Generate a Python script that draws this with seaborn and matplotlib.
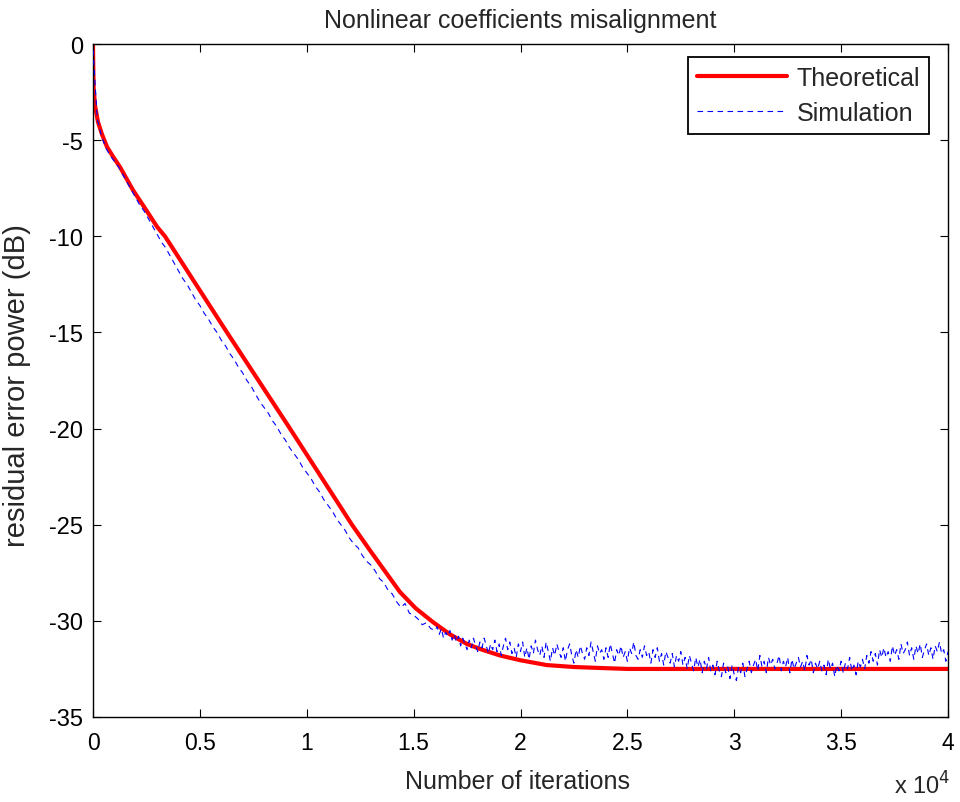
import numpy as np
import pandas as pd
import matplotlib
matplotlib.use("Agg")
import matplotlib.pyplot as plt
import seaborn as sns

# ---- data ----
theo_iter = [0, 10, 30, 94, 234, 421, 655, 935, 1263, 1871, 2526, 2993, 3367,
             6268, 9215, 12115, 13000, 14360, 15100, 15900, 16700, 17490,
             18200, 19040, 20000, 21230, 22500, 23710, 25000, 40000]
theo_db = [0, -1.0, -2.3, -3.2, -4.06, -4.7, -5.35, -5.85, -6.4, -7.6, -8.7, -9.5, -10.0,
           -15.0, -20.0, -25.0, -26.4, -28.5, -29.35, -30.06, -30.7, -31.2,
           -31.5, -31.8, -32.05, -32.3, -32.4, -32.45, -32.5, -32.5]

# simulation: iterations 0..15800 every 200
sim_db_early = [
    -0.3, -3.9, -4.8, -5.4, -5.8, -6.1, -6.4, -6.8, -7.2, -7.6,
    -8.0, -8.4, -8.7, -9.1, -9.5, -9.9, -10.3, -10.6, -11.0, -11.4,
    -11.8, -12.2, -12.5, -12.9, -13.3, -13.6, -14.0, -14.3, -14.7, -15.0,
    -15.4, -15.7, -16.1, -16.4, -16.8, -17.1, -17.5, -17.8, -18.2, -18.6,
    -18.9, -19.2, -19.6, -19.9, -20.3, -20.6, -21.0, -21.3, -21.6, -22.0,
    -22.3, -22.6, -23.0, -23.3, -23.7, -24.0, -24.3, -24.7, -25.0, -25.3,
    -25.7, -26.0, -26.2, -26.6, -26.9, -27.1, -27.4, -27.8, -28.0, -28.4,
    -28.6, -29.0, -29.3, -29.1, -29.6, -29.7, -29.9, -30.2, -30.1, -30.4,
]
# simulation: iterations 16000..40000 every 100
sim_db_tail = [
    -30.5, -30.3, -30.7, -30.4, -30.9, -30.6, -30.8, -30.5, -31.0, -30.7,
    -31.1, -30.8, -31.3, -30.9, -31.2, -31.5, -31.0, -31.4, -30.9, -31.3,
    -31.6, -31.1, -31.4, -30.9, -31.3, -31.7, -31.2, -31.5, -31.0, -31.6,
    -31.2, -31.8, -31.3, -30.9, -31.5, -31.1, -31.7, -31.4, -31.9, -31.2,
    -31.6, -31.1, -31.9, -31.4, -32.0, -31.3, -31.7, -31.0, -31.5, -31.8,
    -31.3, -31.9, -31.1, -31.6, -32.1, -31.4, -31.8, -31.2, -31.6, -31.9,
    -31.4, -32.1, -31.5, -31.2, -31.8, -32.2, -31.5, -31.9, -31.3, -31.7,
    -32.0, -31.4, -31.8, -31.1, -31.6, -32.1, -31.3, -31.7, -31.5, -32.0,
    -31.4, -31.9, -31.2, -31.7, -32.2, -31.5, -31.8, -31.3, -31.9, -31.6,
    -32.1, -31.4, -31.7, -31.1, -31.8, -32.0, -31.5, -31.9, -31.3, -31.8,
    -31.6, -32.2, -31.5, -31.9, -31.4, -32.1, -31.7, -32.3, -31.6, -31.9,
    -32.2, -31.7, -32.4, -31.8, -32.1, -31.6, -32.3, -31.9, -32.5, -31.8,
    -32.2, -32.6, -31.9, -32.4, -32.0, -32.7, -32.1, -32.5, -31.9, -32.6,
    -32.3, -32.8, -32.1, -32.6, -32.9, -32.2, -32.7, -32.4, -33.0, -32.3,
    -32.8, -33.1, -32.4, -32.7, -32.2, -32.9, -32.5, -32.1, -32.7, -32.3,
    -32.0, -32.6, -31.8, -32.4, -32.1, -32.7, -31.9, -32.3, -32.0, -32.5,
    -32.2, -31.8, -32.6, -32.1, -32.4, -31.9, -32.7, -32.0, -32.5, -32.2,
    -31.9, -32.4, -32.1, -32.6, -31.8, -32.3, -32.0, -32.7, -32.2, -32.5,
    -32.1, -32.6, -32.3, -32.8, -32.0, -32.5, -32.2, -32.9, -32.3, -32.6,
    -32.1, -32.7, -32.2, -32.5, -31.9, -32.6, -32.3, -32.8, -32.1, -32.4,
    -32.0, -32.5, -31.8, -32.2, -31.6, -32.1, -31.7, -32.3, -31.5, -31.9,
    -31.4, -31.9, -31.6, -32.1, -31.3, -31.8, -31.5, -32.0, -31.2, -31.7,
    -31.5, -31.1, -31.8, -31.4, -32.0, -31.3, -31.7, -31.2, -31.9, -31.5,
    -31.2, -31.8, -31.4, -32.0, -31.3, -31.6, -31.1, -31.7, -31.5, -32.1,
    -31.6,
]
sim_iter = list(range(0, 16000, 200)) + list(range(16000, 40001, 100))
sim_db = sim_db_early + sim_db_tail

x_ticks = [0, 5000, 10000, 15000, 20000, 25000, 30000, 35000, 40000]
x_tick_labels = ["0", "0.5", "1", "1.5", "2", "2.5", "3", "3.5", "4"]
y_ticks = [0, -5, -10, -15, -20, -25, -30, -35]
y_tick_labels = ["0", "-5", "-10", "-15", "-20", "-25", "-30", "-35"]

# ---- style ----
sns.set_style("ticks")
plt.rcParams["font.family"] = ["Liberation Sans", "DejaVu Sans"]
plt.rcParams["axes.unicode_minus"] = False

fig = plt.figure(figsize=(9.6, 8.03), dpi=100)
ax = fig.add_axes([93 / 960, 1 - 718 / 803, (948 - 93) / 960, (718 - 45) / 803])

theo_df = pd.DataFrame({"iter": theo_iter, "db": theo_db})
sim_df = pd.DataFrame({"iter": sim_iter, "db": sim_db})

sns.lineplot(data=theo_df, x="iter", y="db", ax=ax, color="#ff0000", lw=3.0,
             label="Theoretical", zorder=2)
sns.lineplot(data=sim_df, x="iter", y="db", ax=ax, color="#0000ff", lw=0.8,
             linestyle=(0, (5, 4)), label="Simulation", zorder=3)

ax.set_xlim(0, 40000)
ax.set_ylim(-35, 0)
ax.set_xticks(x_ticks)
ax.set_xticklabels(x_tick_labels)
ax.set_yticks(y_ticks)
ax.set_yticklabels(y_tick_labels)
ax.tick_params(direction="in", length=6, width=0.8, top=True, right=True,
               colors="black")
ax.tick_params(axis="x", labelsize=16.5, pad=10)
ax.tick_params(axis="y", labelsize=17, pad=7)
for s in ax.spines.values():
    s.set_visible(True)
    s.set_linewidth(1.0)
    s.set_color("black")

ax.set_title("Nonlinear coefficients misalignment", fontsize=18, pad=12)
ax.set_xlabel("Number of iterations", fontsize=18)
ax.xaxis.set_label_coords(0.4965, -0.077)
ax.set_ylabel("residual error power (dB)", fontsize=21)
ax.yaxis.set_label_coords(-0.072, 0.494)
ax.text(1.003, -0.1144, r"x 10$^{4}$", transform=ax.transAxes, ha="right",
        va="baseline", fontsize=17)

leg = ax.legend(loc="upper right", bbox_to_anchor=(0.978, 0.981),
                borderaxespad=0, fontsize=18, handlelength=3.6,
                handletextpad=0.4, fancybox=False, framealpha=1,
                edgecolor="black", borderpad=0.36, labelspacing=0.44)
leg.get_frame().set_linewidth(1.3)

fig.savefig("out.png", dpi=100)
